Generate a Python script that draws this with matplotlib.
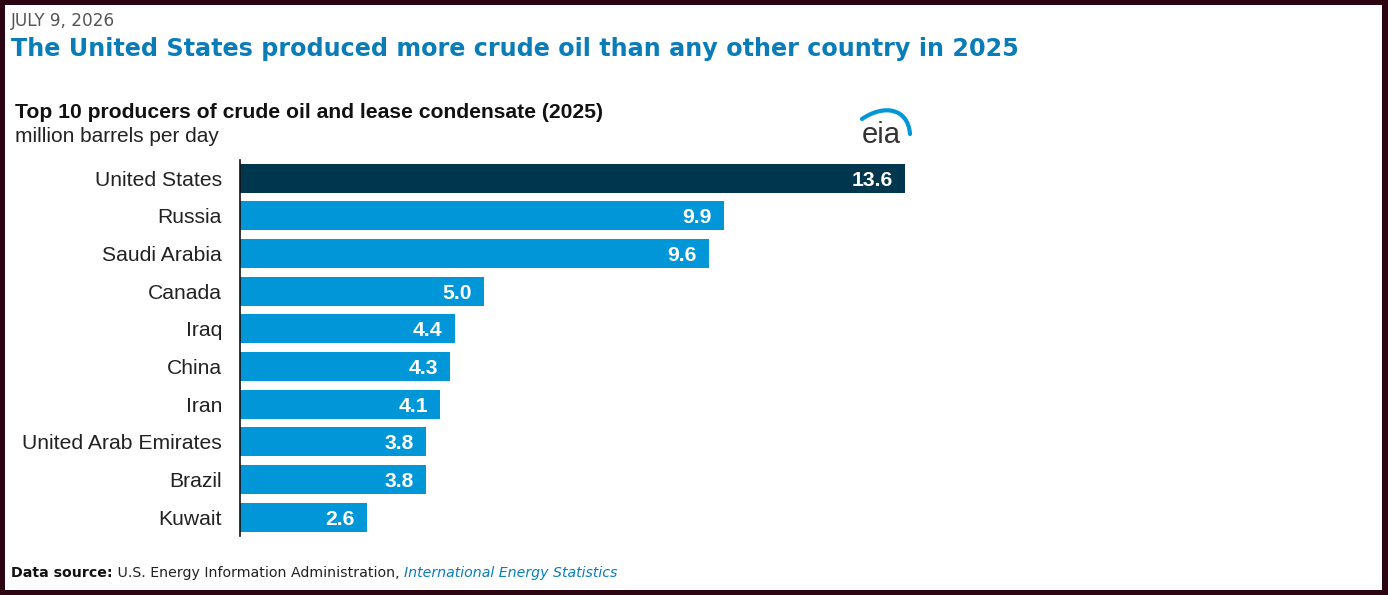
import matplotlib.pyplot as plt
from matplotlib.patches import Rectangle, PathPatch
from matplotlib.path import Path

countries = ["United States", "Russia", "Saudi Arabia", "Canada", "Iraq",
             "China", "Iran", "United Arab Emirates", "Brazil", "Kuwait"]
production = [13.6, 9.9, 9.6, 5.0, 4.4, 4.3, 4.1, 3.8, 3.8, 2.6]

W, H = 1388, 595
DARK = "#00374f"
BLUE = "#0096d7"
TITLE_BLUE = "#0a7db8"


def fx(px):
    return px / W


def fy(py):
    return 1 - py / H


fig = plt.figure(figsize=(W / 100, H / 100), dpi=100)
fig.patch.set_facecolor("#2b0612")
fig.patches.append(Rectangle((fx(5), fy(590)), fx(1382) - fx(5), fy(5) - fy(590),
                             transform=fig.transFigure, facecolor="white",
                             edgecolor="none", zorder=-5))

# header
fig.text(fx(11), fy(21), "JULY 9, 2026", fontsize=12.2, color="#555555",
         family="DejaVu Sans", va="center")
fig.text(fx(11), fy(49), "The United States produced more crude oil than any other country in 2025",
         fontsize=17.2, fontweight="bold", color=TITLE_BLUE, family="DejaVu Sans", va="center")

# chart titles
fig.text(fx(15), fy(113), "Top 10 producers of crude oil and lease condensate (2025)",
         fontsize=15.2, fontweight="bold", color="#111111", family="Liberation Sans", va="center")
fig.text(fx(15), fy(136), "million barrels per day", fontsize=15, color="#222222",
         family="Liberation Sans", va="center")

# eia logo
fig.text(fx(881), fy(143), "eia", fontsize=21, color="#333333", family="Liberation Sans",
         ha="center", va="baseline")
swoosh = Path([(fx(862), fy(119)), (fx(884), fy(104)), (fx(908), fy(108)), (fx(910), fy(134))],
              [Path.MOVETO, Path.CURVE4, Path.CURVE4, Path.CURVE4])
fig.patches.append(PathPatch(swoosh, transform=fig.transFigure, facecolor="none",
                             edgecolor=BLUE, linewidth=3.0, capstyle="round"))

# bars
ax = fig.add_axes([fx(240), fy(536), fx(905) - fx(240), fy(160) - fy(536)])
ypos = list(range(len(countries)))
colors = [DARK] + [BLUE] * (len(countries) - 1)
bars = ax.barh(ypos, production, height=0.77, color=colors)
ax.set_xlim(0, max(production))
ax.set_ylim(len(countries) - 0.5, -0.48)
ax.set_yticks(ypos)
ax.set_yticklabels(countries, fontsize=15.2, family="Liberation Sans", color="#222222")
ax.tick_params(axis="y", length=0, pad=13)
ax.set_xticks([])
for side in ["top", "right", "bottom"]:
    ax.spines[side].set_visible(False)
ax.spines["left"].set_color("#111111")
ax.spines["left"].set_linewidth(1.2)
ax.set_facecolor("none")

for bar, val in zip(bars, production):
    ax.annotate(f"{val:.1f}", (bar.get_width(), bar.get_y() + bar.get_height() / 2),
                xytext=(-9, -1.5), textcoords="offset points", ha="right", va="center",
                fontsize=15.2, fontweight="bold", color="white", family="Liberation Sans")

# footer
fig.canvas.draw()
renderer = fig.canvas.get_renderer()
x = fx(11)
parts = [("Data source:", dict(fontweight="bold", color="#111111")),
         (" U.S. Energy Information Administration, ", dict(color="#222222")),
         ("International Energy Statistics", dict(style="italic", color=TITLE_BLUE))]
for txt, kw in parts:
    t = fig.text(x, fy(573), txt, fontsize=10.2, family="DejaVu Sans", va="center", **kw)
    bb = t.get_window_extent(renderer)
    x = bb.x1 / W

fig.savefig("out.png", dpi=100, facecolor=fig.get_facecolor())
